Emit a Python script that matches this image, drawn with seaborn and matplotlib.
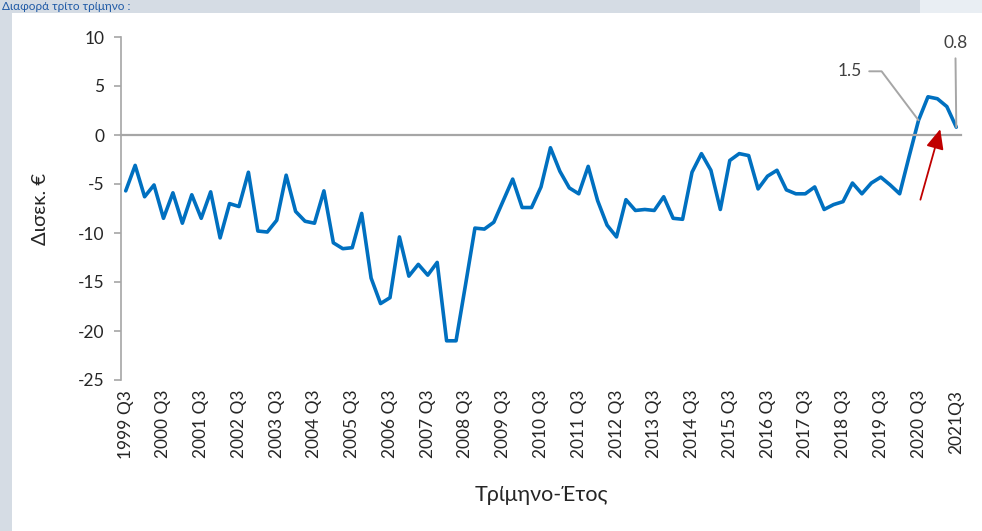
import matplotlib
matplotlib.use("Agg")
import matplotlib.pyplot as plt
import seaborn as sns
import pandas as pd
import numpy as np
from matplotlib.patches import Rectangle

# ---- data (quarterly, 1999 Q3 ... 2021 Q3), billions of euro ----
values = [
    -5.7, -3.1, -6.3, -5.1, -8.5, -5.9, -9.0, -6.1, -8.5, -5.8,
    -10.5, -7.0, -7.3, -3.8, -9.8, -9.9, -8.7, -4.1, -7.8, -8.8,
    -9.0, -5.7, -11.0, -11.6, -11.5, -8.0, -14.6, -17.2, -16.6, -10.4,
    -14.4, -13.2, -14.3, -13.0, -21.0, -21.0, -15.3, -9.5, -9.6, -8.9,
    -6.7, -4.5, -7.4, -7.4, -5.3, -1.3, -3.7, -5.4, -6.0, -3.2,
    -6.7, -9.2, -10.4, -6.6, -7.7, -7.6, -7.7, -6.3, -8.5, -8.6,
    -3.8, -1.9, -3.6, -7.6, -2.6, -1.9, -2.1, -5.5, -4.2, -3.6,
    -5.6, -6.0, -6.0, -5.3, -7.6, -7.1, -6.8, -4.9, -6.0, -4.9,
    -4.3, -5.1, -6.0, -2.2, 1.5, 3.9, 3.7, 2.9, 0.8,
]
quarters = [f"{1999 + (i + 2) // 4} Q{(i + 2) % 4 + 1}" for i in range(len(values))]
tick_labels = [
    "1999 Q3", "2000 Q3", "2001 Q3", "2002 Q3", "2003 Q3", "2004 Q3",
    "2005 Q3", "2006 Q3", "2007 Q3", "2008 Q3", "2009 Q3", "2010 Q3",
    "2011 Q3", "2012 Q3", "2013 Q3", "2014 Q3", "2015 Q3", "2016 Q3",
    "2017 Q3", "2018 Q3", "2019 Q3", "2020 Q3", "2021Q3",
]
y_ticks = [10, 5, 0, -5, -10, -15, -20, -25]
annotated = {"2020 Q3": "1.5", "2021 Q3": "0.8"}

df = pd.DataFrame({"quarter": quarters, "value": values})
df["pos"] = np.arange(len(df))

sns.set_theme(style="white")
plt.rcParams["font.family"] = ["Lato", "DejaVu Sans"]

W, H = 982, 531
fig = plt.figure(figsize=(W / 100, H / 100), dpi=100)
fig.patch.set_facecolor("#d5dce4")
fig.add_artist(Rectangle((12 / W, 0), (W - 12) / W, (H - 13) / H,
                         transform=fig.transFigure, facecolor="white",
                         edgecolor="none", zorder=0))
fig.add_artist(Rectangle((920 / W, (H - 13) / H), 62 / W, 13 / H,
                         transform=fig.transFigure, facecolor="#e9eef3",
                         edgecolor="none", zorder=0))
fig.text(2 / W, 1 - 6.5 / H, "Διαφορά τρίτο τρίμηνο :", ha="left",
         va="center", color="#1f5aa6", fontsize=8.5)

ax = fig.add_axes([121 / W, 1 - 380 / H, 840 / W, 343 / H])
ax.set_facecolor("none")
sns.lineplot(data=df, x="pos", y="value", color="#0070c0", lw=2.6, ax=ax)

n = len(df)
ax.set_xlim(-0.5, n - 0.5)
ax.set_ylim(-25, 10)

grey = "#a6a6a6"
for s in ("top", "right"):
    ax.spines[s].set_visible(False)
ax.spines["left"].set_color(grey)
ax.spines["left"].set_linewidth(1.2)
ax.spines["bottom"].set_position(("data", 0))
ax.spines["bottom"].set_color(grey)
ax.spines["bottom"].set_linewidth(1.6)

ax.set_xticks(np.arange(3.5, n - 1, 4))
ax.set_xticklabels([])
ax.tick_params(axis="x", direction="out", length=5, width=1.2, color=grey)

ax.set_yticks(y_ticks)
ax.set_yticklabels([str(v) for v in y_ticks])
ax.tick_params(axis="y", direction="out", length=5, width=1.2, color=grey,
               pad=7, labelsize=12.5, labelcolor="#262626", left=True)

sec = ax.secondary_xaxis("bottom")
sec.set_xticks(df["pos"][::4].to_numpy(), labels=tick_labels)
sec.tick_params(length=0, pad=7, labelsize=12.5, labelcolor="#262626", rotation=90)
sec.spines["bottom"].set_visible(False)

ax.set_xlabel("")
ax.set_ylabel("Δισεκ. €", fontsize=14.5, color="#262626")
ax.yaxis.set_label_coords((49 - 121) / 840, 0.5)
fig.text((121 + 420) / W, 1 - 495 / H, "Τρίμηνο-Έτος", ha="center",
         va="center", fontsize=15.5, color="#262626")

# data labels
r = df[df["quarter"] == "2020 Q3"].iloc[0]
ax.annotate(annotated["2020 Q3"], xy=(r["pos"], r["value"]), xytext=(76.7, 6.5),
            ha="center", va="center", fontsize=12.5, color="#404040",
            arrowprops=dict(arrowstyle="-", color=grey, lw=1.4, shrinkA=3,
                            shrinkB=0,
                            connectionstyle="angle,angleA=0,angleB=127,rad=0"))
r = df[df["quarter"] == "2021 Q3"].iloc[0]
ax.annotate(annotated["2021 Q3"], xy=(r["pos"], r["value"]), xytext=(r["pos"] - 0.1, 9.4),
            ha="center", va="center", fontsize=12.5, color="#404040",
            arrowprops=dict(arrowstyle="-", color=grey, lw=1.4, shrinkA=3,
                            shrinkB=0))

# red arrow
ax.annotate("", xy=(86.3, 0.6), xytext=(84.2, -6.6),
            arrowprops=dict(arrowstyle="-|>,head_length=1.0,head_width=0.45",
                            color="#c00000", lw=1.3, shrinkA=0, shrinkB=0))

fig.savefig("out.png", dpi=100, facecolor=fig.get_facecolor())
